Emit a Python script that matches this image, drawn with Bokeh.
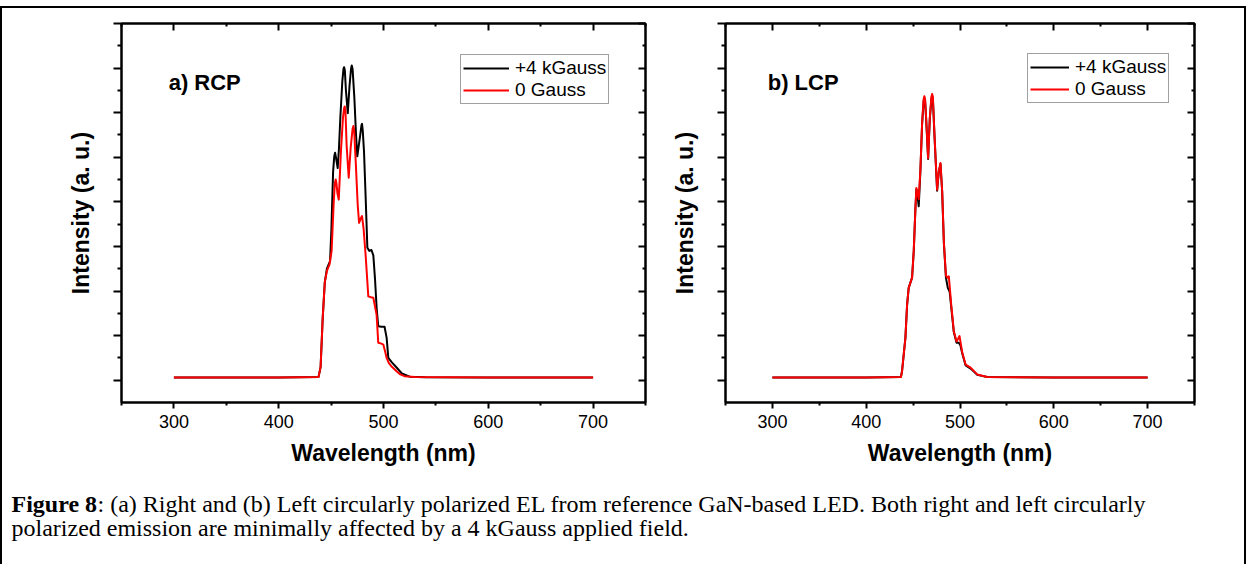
from bokeh.plotting import figure
from bokeh.models import (FixedTicker, LinearAxis, Range1d, Legend, LegendItem, Label,
                          CustomJSTickFormatter)
from bokeh.layouts import row, column
from bokeh.embed import file_html
from bokeh.resources import INLINE

# ---------------- data ----------------
rcp_wl_4k = [300, 400, 438, 440, 442, 444, 446, 449, 450.3, 451.9, 453, 453.8, 454.6, 456.3, 457.5,
             458.8, 460.7, 461.8, 462.4, 463.1, 464.2, 465.9, 467.6, 469, 469.7, 470.5, 472.2,
             473.8, 475, 477.8, 479, 479.5, 480.2, 481.4, 483, 484.6, 486.5, 488.5, 490.3, 491.9,
             493.5, 495, 498.2, 501, 503, 504.6, 508, 512.7, 517.5, 525, 540, 600, 700]
rcp_int_4k = [0.06, 0.06, 0.07, 0.3, 1.4, 2.2, 2.5, 2.67, 3.4, 4.67, 5.02, 5.1, 5.0, 4.76, 5.2,
              5.88, 6.7, 6.98, 7.02, 6.95, 6.48, 5.99, 6.61, 6.98, 7.06, 6.98, 6.33,
              5.5, 5.02, 5.5, 5.72, 5.75, 5.6, 5.13, 4.08, 2.97, 2.9, 2.92, 2.8, 2.27,
              1.6, 1.21, 1.2, 1.2, 0.95, 0.5, 0.4, 0.28, 0.15, 0.08, 0.065, 0.06, 0.06]

rcp_wl_0 = [300, 400, 438, 440, 442, 444, 446, 448.5, 450.5, 452.5, 453.6, 454.4, 455.2, 456, 457.3,
            459.4, 461.3, 462.4, 463, 463.7, 464.8, 466.8, 468.7, 470.5, 471.3, 472, 473.5, 475.4,
            476.7, 478.5, 479.5, 481, 482.9, 485.5, 488, 490.3, 493.4, 495, 498, 499.8, 501.5,
            503, 505, 508, 512.5, 516, 520, 530, 600, 700]
rcp_int_0 = [0.06, 0.06, 0.07, 0.3, 1.4, 2.2, 2.45, 2.6, 2.9, 4.0, 4.42, 4.5, 4.4, 4.2, 4.05,
             5.14, 5.88, 6.1, 6.14, 6.05, 5.27, 4.54, 5.22, 5.64, 5.7, 5.6, 4.9, 3.93,
             3.53, 3.64, 3.68, 3.4, 2.82, 1.88, 1.86, 1.85, 1.47, 0.84, 0.82, 0.8, 0.65,
             0.5, 0.39, 0.3, 0.2, 0.13, 0.09, 0.07, 0.06, 0.06]

lcp_wl_4k = [300, 400, 437, 438.2, 441.8, 443.6, 445.3, 448.9, 450.7, 452.5, 453.5, 454.4, 456,
             457.8, 459.6, 461.2, 462, 462.8, 463.9, 466, 467.8, 469.5, 470.3, 471.1, 472.8, 475.6,
             477.4, 479.2, 481, 482.8, 485, 487, 489, 490.6, 493.4, 496.3, 498.8, 500.5, 502.4,
             506, 511.3, 518.4, 529, 600, 700]
lcp_int_4k = [0.06, 0.06, 0.07, 0.2, 0.95, 1.69, 2.07, 2.3, 2.9, 3.87, 4.28, 4.2, 3.9,
              4.7, 5.75, 6.25, 6.33, 6.25, 5.86, 4.96, 5.86, 6.3, 6.38, 6.3, 5.48, 4.25,
              4.67, 4.85, 4.22, 3.08, 2.3, 2.07, 1.98, 1.65, 1.08, 0.84, 0.84, 0.78, 0.6,
              0.33, 0.26, 0.12, 0.07, 0.06, 0.06]

lcp_wl_0 = [300, 400, 437, 438.2, 441.8, 443.6, 445.3, 448.9, 450.7, 452.5, 453.5, 454.4, 456,
            457.8, 459.6, 461.2, 462, 462.8, 463.9, 466, 467.8, 469.5, 470.3, 471.1, 472.8, 475.6,
            477.4, 479.2, 481, 482.8, 485, 486.5, 488.1, 490.6, 493.4, 496.3, 498, 499.5, 502.4,
            506, 511.3, 518.4, 529, 600, 700]
lcp_int_0 = [0.06, 0.06, 0.07, 0.2, 0.95, 1.69, 2.07, 2.3, 2.9, 3.87, 4.31, 4.25, 4.06,
             4.73, 5.77, 6.3, 6.37, 6.3, 5.88, 4.98, 5.88, 6.35, 6.42, 6.35, 5.5, 4.27,
             4.69, 4.87, 4.24, 3.1, 2.35, 2.3, 2.33, 1.7, 1.1, 0.87, 0.93, 0.99, 0.62,
             0.35, 0.28, 0.13, 0.07, 0.06, 0.06]

x_major_ticks = [300, 400, 500, 600, 700]
x_minor_ticks = [250, 350, 450, 550, 650, 750]
y_major_ticks = [0, 1, 2, 3, 4, 5, 6, 7, 8]
y_minor_ticks = [0.5, 1.5, 2.5, 3.5, 4.5, 5.5, 6.5, 7.5]

series_labels = ["+4 kGauss", "0 Gauss"]
panel_titles = ["a) RCP", "b) LCP"]
x_title = "Wavelength (nm)"
y_title = "Intensity (a. u.)"
caption_bold = "Figure 8"
caption_line1 = (": (a) Right and (b) Left circularly polarized EL from reference GaN-based LED.  "
                 "Both right and left circularly")
caption_line2 = "polarized emission are minimally affected by a 4 kGauss applied field."

SANS = "Liberation Sans"
SERIF = "Liberation Serif"
PH = 462


def style_axes(p):
    xt = FixedTicker(ticks=x_major_ticks, minor_ticks=x_minor_ticks)
    yt = FixedTicker(ticks=y_major_ticks, minor_ticks=y_minor_ticks)
    p.xaxis.ticker = xt
    p.yaxis.ticker = yt
    p.yaxis.formatter = CustomJSTickFormatter(code="return ''")
    for ax in p.xaxis + p.yaxis:
        ax.axis_line_width = 2
        ax.axis_line_color = "black"
        ax.major_tick_line_width = 2
        ax.minor_tick_line_width = 2
        ax.major_tick_line_color = "black"
        ax.minor_tick_line_color = "black"
        ax.axis_label_text_font = SANS
        ax.axis_label_text_font_style = "bold"
        ax.axis_label_text_font_size = "23px"
        ax.axis_label_text_color = "black"
        ax.major_label_text_font = SANS
        ax.major_label_text_font_size = "18px"
        ax.major_label_text_color = "black"
    p.xaxis.major_tick_out = 6
    p.xaxis.major_tick_in = 0
    p.xaxis.minor_tick_out = 3
    p.xaxis.minor_tick_in = 0
    p.xaxis.major_label_standoff = 6
    p.xaxis.axis_label_standoff = 9
    p.yaxis.major_tick_out = 8
    p.yaxis.major_tick_in = 0
    p.yaxis.minor_tick_out = 4
    p.yaxis.minor_tick_in = 0
    p.yaxis.major_label_standoff = 0
    p.yaxis.axis_label_standoff = 20

    top = LinearAxis(ticker=FixedTicker(ticks=x_major_ticks, minor_ticks=x_minor_ticks),
                     formatter=CustomJSTickFormatter(code="return ''"))
    right = LinearAxis(ticker=FixedTicker(ticks=y_major_ticks, minor_ticks=y_minor_ticks),
                       formatter=CustomJSTickFormatter(code="return ''"))
    for ax in (top, right):
        ax.axis_line_width = 2
        ax.major_tick_line_width = 2
        ax.minor_tick_line_width = 2
        ax.major_tick_in = 7
        ax.major_tick_out = 0
        ax.minor_tick_in = 3
        ax.minor_tick_out = 0
        ax.major_label_standoff = 0
        ax.major_label_text_font_size = "1px"
    p.add_layout(top, "above")
    p.add_layout(right, "right")


def make_panel(width, bl, br, wl_a, in_a, wl_b, in_b, title, leg_loc, glyph_w):
    p = figure(width=width, height=PH, x_range=Range1d(250, 750), y_range=Range1d(-0.5, 8.0),
               output_backend="svg", toolbar_location=None,
               min_border_left=bl, min_border_right=br, min_border_top=15, min_border_bottom=68,
               x_axis_label=x_title, y_axis_label=y_title)
    p.grid.visible = False
    p.outline_line_color = "black"
    p.outline_line_width = 2
    p.background_fill_color = "white"
    p.border_fill_color = "white"
    style_axes(p)
    r1 = p.line(wl_a, in_a, line_color="black", line_width=2, line_join="round")
    r2 = p.line(wl_b, in_b, line_color="#ff0000", line_width=2, line_join="round")
    leg = Legend(items=[LegendItem(label=series_labels[0], renderers=[r1]),
                        LegendItem(label=series_labels[1], renderers=[r2])],
                 location=leg_loc, orientation="vertical")
    leg.border_line_color = "#444444"
    leg.border_line_width = 1
    leg.background_fill_color = "white"
    leg.background_fill_alpha = 1
    leg.padding = 2
    leg.spacing = 0
    leg.margin = 0
    leg.glyph_width = glyph_w
    leg.glyph_height = 18
    leg.label_height = 18
    leg.label_standoff = 6
    leg.label_text_font = SANS
    leg.label_text_font_size = "19px"
    leg.label_text_color = "black"
    p.add_layout(leg)
    p.add_layout(Label(x=295, y=6.68, text=title, text_font=SANS, text_font_style="bold",
                       text_font_size="22px", text_baseline="alphabetic", text_color="black"))
    return p


p1 = make_panel(663, 119, 20, rcp_wl_4k, rcp_int_4k, rcp_wl_0, rcp_int_0,
                panel_titles[0], (339, 298), 46)
p2 = make_panel(579, 60, 50, lcp_wl_4k, lcp_int_4k, lcp_wl_0, lcp_int_0,
                panel_titles[1], (302, 299), 39)

CH = 94
p3 = figure(width=1242, height=CH, x_range=Range1d(0, 1242), y_range=Range1d(0, CH),
            output_backend="svg", toolbar_location=None, min_border=0)
p3.axis.visible = False
p3.grid.visible = False
p3.outline_line_color = None
BOLD_W = 3.583 * 24
p3.add_layout(Label(x=9, y=CH - 33, text=caption_bold, text_font=SERIF, text_font_style="bold",
                    text_font_size="24px", text_baseline="alphabetic", text_color="black"))
p3.add_layout(Label(x=9 + BOLD_W, y=CH - 33, text=caption_line1, text_font=SERIF,
                    text_font_size="24px", text_baseline="alphabetic", text_color="black"))
p3.add_layout(Label(x=9, y=CH - 57, text=caption_line2, text_font=SERIF,
                    text_font_size="24px", text_baseline="alphabetic", text_color="black"))

layout = column(row(p1, p2), p3,
                styles={"border-top": "2px solid black", "border-left": "2px solid black",
                        "border-right": "2px solid black", "margin-top": "6px"})

open("out.html", "w").write(file_html(layout, INLINE))
